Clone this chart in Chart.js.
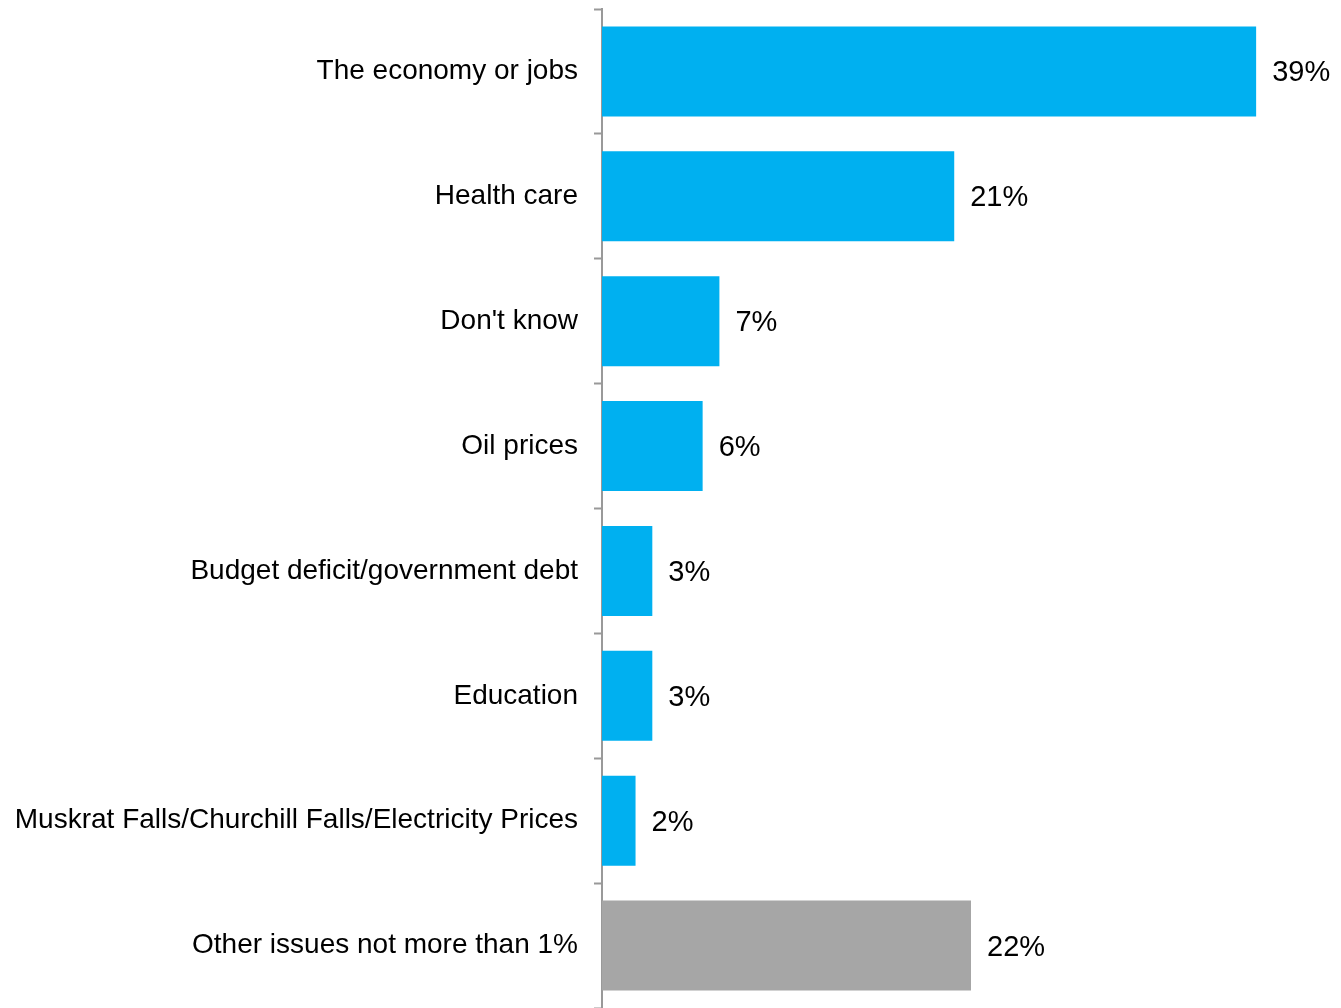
<!DOCTYPE html>
<html>
<head>
<meta charset="utf-8">
<script src="https://cdn.jsdelivr.net/npm/chart.js@4"></script>
<style>
html,body{margin:0;padding:0;background:#fff;}
#wrap{width:1341px;height:1008px;position:relative;}
</style>
</head>
<body>
<div id="wrap"><canvas id="c" width="1341" height="1008"></canvas></div>
<script>
const categories = [
  "The economy or jobs",
  "Health care",
  "Don't know",
  "Oil prices",
  "Budget deficit/government debt",
  "Education",
  "Muskrat Falls/Churchill Falls/Electricity Prices",
  "Other issues not more than 1%"
];
const values = [39, 21, 7, 6, 3, 3, 2, 22];
const barColors = ["#00B0F0","#00B0F0","#00B0F0","#00B0F0","#00B0F0","#00B0F0","#00B0F0","#A6A6A6"];
const valueLabels = values.map(v => v + "%");

const FONT = "'Liberation Sans', Arial, sans-serif";

const valueLabelPlugin = {
  id: 'valueLabels',
  afterDatasetsDraw(chart) {
    const ctx = chart.ctx;
    const meta = chart.getDatasetMeta(0);
    ctx.save();
    ctx.font = "29px " + FONT;
    ctx.fillStyle = "#000";
    ctx.textAlign = "left";
    ctx.textBaseline = "middle";
    meta.data.forEach((bar, i) => {
      ctx.fillText(valueLabels[i], bar.x + 16, bar.y + 2);
    });
    ctx.restore();
  }
};

new Chart(document.getElementById('c'), {
  type: 'bar',
  data: {
    labels: categories,
    datasets: [{
      data: values,
      backgroundColor: barColors,
      borderWidth: 0,
      barPercentage: 0.72,
      categoryPercentage: 1
    }]
  },
  options: {
    indexAxis: 'y',
    responsive: false,
    animation: false,
    layout: { padding: { top: 9, bottom: 0, left: 0, right: 1 } },
    plugins: { legend: { display: false }, tooltip: { enabled: false } },
    scales: {
      x: { display: false, min: 0, max: 44 },
      y: {
        afterFit(scale) { scale.width = 602; scale.paddingTop = 0; scale.paddingBottom = 0; },
        grid: {
          drawOnChartArea: false,
          drawTicks: true,
          tickLength: 8,
          tickWidth: 2,
          color: '#999999',
          offset: true
        },
        border: { display: true, color: '#999999', width: 2 },
        ticks: {
          color: '#000',
          padding: 16,
          font: { family: FONT, size: 28 }
        }
      }
    }
  },
  plugins: [valueLabelPlugin]
});
</script>
</body>
</html>
